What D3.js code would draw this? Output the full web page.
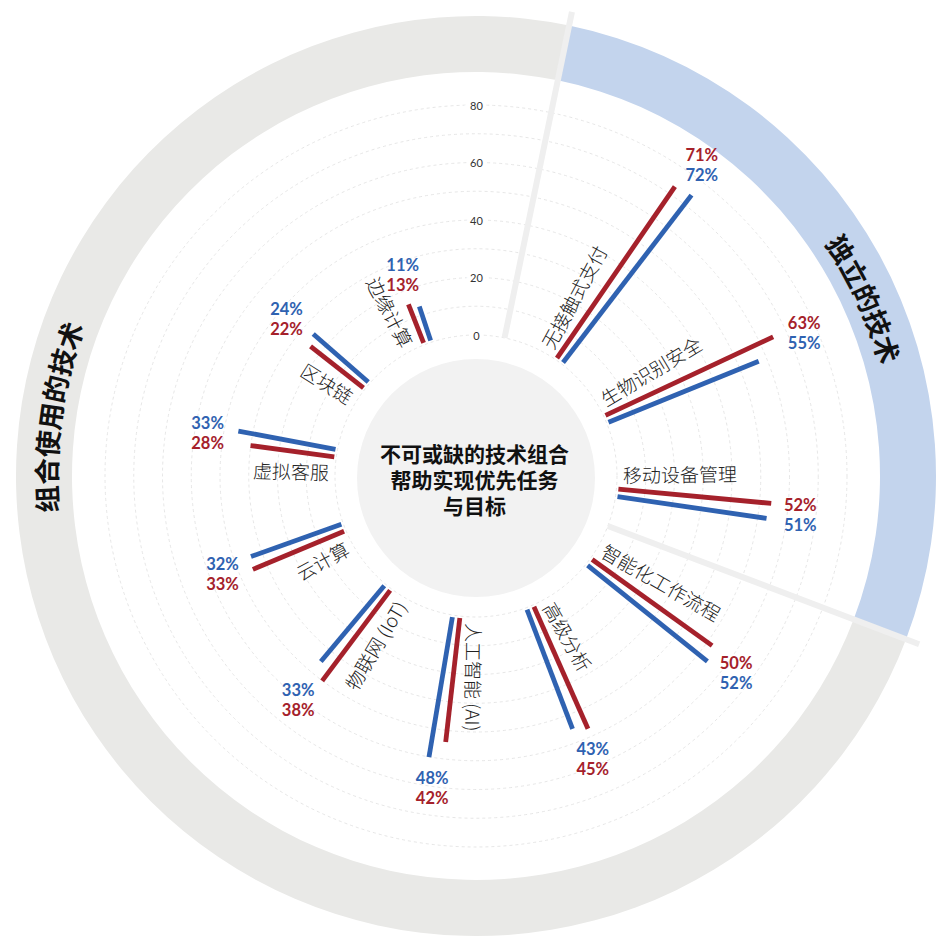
<!DOCTYPE html>
<html>
<head>
<meta charset="utf-8">
<script src="https://cdn.jsdelivr.net/npm/d3@7"></script>
<style>
  body { margin: 0; background: #fff; }
  svg { display: block; }
</style>
</head>
<body>
<div id="chart"></div>
<script>
const fig_width = 942
const fig_height = 938
const cx = 476, cy = 476

// categories clockwise from the top, first three are "independent" technologies
const categories = ['无接触式支付', '生物识别安全', '移动设备管理', '智能化工作流程', '高级分析',
    '人工智能 (AI)', '物联网 (IoT)', '云计算', '虚拟客服', '区块链', '边缘计算']
const red_values = [71, 63, 52, 50, 45, 42, 38, 33, 28, 22, 13]
const blue_values = [72, 55, 51, 52, 43, 48, 33, 32, 33, 24, 11]
const grid_values = [0, 10, 20, 30, 40, 50, 60, 70, 80]
const tick_values = [0, 20, 40, 60, 80]
const group_names = ['独立的技术', '组合使用的技术']
const center_title = ['不可或缺的技术组合', '帮助实现优先任务', '与目标']

const red = '#a5212b'
const blue = '#2f62b1'

// angles in degrees, clockwise from 12 o'clock
let angle = d3.scalePoint().domain(categories).range([36, 340])
let radius = d3.scaleLinear().domain([0, 80]).range([141, 371])
let step = angle.step()

const rad = d => d * Math.PI / 180
const polar = (a, r) => [cx + r * Math.sin(rad(a)), cy - r * Math.cos(rad(a))]

let svg = d3.select('#chart')
    .append('svg')
    .attr('width', fig_width)
    .attr('height', fig_height)

// group ring
let sep1 = angle(categories[0]) - step * 0.8
let sep2 = angle(categories[2]) + step * 0.46
let ring = d3.arc().innerRadius(404).outerRadius(460)

svg.append('path')
    .attr('transform', `translate(${cx},${cy})`)
    .attr('d', ring({startAngle: rad(sep2), endAngle: rad(sep1 + 360)}))
    .attr('fill', '#e9e9e7')
svg.append('path')
    .attr('transform', `translate(${cx},${cy})`)
    .attr('d', ring({startAngle: rad(sep1), endAngle: rad(sep2)}))
    .attr('fill', '#c3d4ed')

// ring titles along the arc
let title_centres = [65.5, 278]
let title_r = 419
let defs = svg.append('defs')
group_names.forEach((name, i) => {
    let c = title_centres[i]
    let p0 = polar(c - 45, title_r), p1 = polar(c + 45, title_r)
    defs.append('path')
        .attr('id', `grp${i}`)
        .attr('d', `M${p0[0]},${p0[1]} A${title_r},${title_r} 0 0 1 ${p1[0]},${p1[1]}`)
    svg.append('text')
        .style('font-family', '"Noto Sans CJK SC", sans-serif')
        .style('font-size', '27px')
        .style('font-weight', 700)
        .attr('fill', '#111')
        .append('textPath')
        .attr('href', `#grp${i}`)
        .attr('startOffset', '50%')
        .attr('text-anchor', 'middle')
        .text(name)
})

// dashed grid circles
svg.selectAll('circle.grid')
    .data(grid_values)
    .join('circle')
    .attr('class', 'grid')
    .attr('cx', cx)
    .attr('cy', cy)
    .attr('r', d => radius(d))
    .attr('fill', 'none')
    .attr('stroke', '#e0e0e0')
    .attr('stroke-width', 0.8)
    .attr('stroke-dasharray', '3,3')

// centre disc
svg.append('circle')
    .attr('cx', cx)
    .attr('cy', cy + 2)
    .attr('r', 119)
    .attr('fill', '#f2f2f2')

// separators between the two groups
svg.selectAll('line.sep')
    .data([sep1, sep2])
    .join('line')
    .attr('class', 'sep')
    .attr('x1', d => polar(d, 141)[0])
    .attr('y1', d => polar(d, 141)[1])
    .attr('x2', d => polar(d, 474)[0])
    .attr('y2', d => polar(d, 474)[1])
    .attr('stroke', '#efefef')
    .attr('stroke-width', 6)

// bars: red a bit counter-clockwise, blue a bit clockwise of the category angle
let bar_data = categories.flatMap((c, i) => [
    {cat: c, value: red_values[i], colour: red, a: angle(c) - 1.5},
    {cat: c, value: blue_values[i], colour: blue, a: angle(c) + 1.5}
])

svg.selectAll('line.bar')
    .data(bar_data)
    .join('line')
    .attr('class', 'bar')
    .attr('x1', d => polar(d.a, radius(0) + 2)[0])
    .attr('y1', d => polar(d.a, radius(0) + 2)[1])
    .attr('x2', d => polar(d.a, radius(d.value) + 6)[0])
    .attr('y2', d => polar(d.a, radius(d.value) + 6)[1])
    .attr('stroke', d => d.colour)
    .attr('stroke-width', 4.8)

// category names, running along the radius just counter-clockwise of the bars
svg.selectAll('text.cat')
    .data(categories)
    .join('text')
    .attr('class', 'cat')
    .attr('transform', c => {
        let a = angle(c) - 7.5
        let p = polar(a, 147)
        return `translate(${p[0]},${p[1]}) rotate(${a < 185 ? a - 90 : a + 90})`
    })
    .attr('text-anchor', c => angle(c) - 7.5 < 185 ? 'start' : 'end')
    .attr('dominant-baseline', 'central')
    .style('font-family', '"Noto Sans CJK SC", sans-serif')
    .style('font-size', '19px')
    .style('font-weight', 300)
    .attr('fill', '#222')
    .text(c => c)

// percentage labels beyond the longer bar
let label_data = categories.map((c, i) => {
    let a = angle(c)
    let p = polar(a, radius(Math.max(red_values[i], blue_values[i])) + 36)
    let pair = [{v: red_values[i], colour: red}, {v: blue_values[i], colour: blue}]
    if (a > 140) pair.reverse()
    return {x: p[0], y: p[1], pair: pair}
})

let labels = svg.selectAll('g.pct')
    .data(label_data)
    .join('g')
    .attr('class', 'pct')
    .attr('transform', d => `translate(${d.x},${d.y})`)

labels.selectAll('text')
    .data(d => d.pair)
    .join('text')
    .attr('y', (d, i) => i === 0 ? -10 : 10)
    .attr('text-anchor', 'middle')
    .attr('dominant-baseline', 'central')
    .style('font-family', 'Lato, sans-serif')
    .style('font-size', '16.5px')
    .style('font-weight', 700)
    .attr('fill', d => d.colour)
    .text(d => `${d.v}%`)

// radial axis labels
svg.selectAll('text.tick')
    .data(tick_values)
    .join('text')
    .attr('class', 'tick')
    .attr('x', cx + 0.5)
    .attr('y', d => cy - radius(d))
    .attr('text-anchor', 'middle')
    .attr('dominant-baseline', 'central')
    .style('font-family', 'Lato, sans-serif')
    .style('font-size', '11px')
    .attr('fill', '#333')
    .attr('stroke', '#fff')
    .attr('stroke-width', 7)
    .attr('paint-order', 'stroke')
    .text(d => d)

// centre title
svg.append('text')
    .attr('class', 'title')
    .attr('text-anchor', 'middle')
    .style('font-family', '"Noto Sans CJK SC", sans-serif')
    .style('font-size', '21px')
    .style('font-weight', 700)
    .attr('fill', '#111')
    .selectAll('tspan')
    .data(center_title)
    .join('tspan')
    .attr('x', cx - 1.5)
    .attr('y', (d, i) => cy - 23 + i * 26)
    .attr('dominant-baseline', 'central')
    .text(d => d)
</script>
</body>
</html>
